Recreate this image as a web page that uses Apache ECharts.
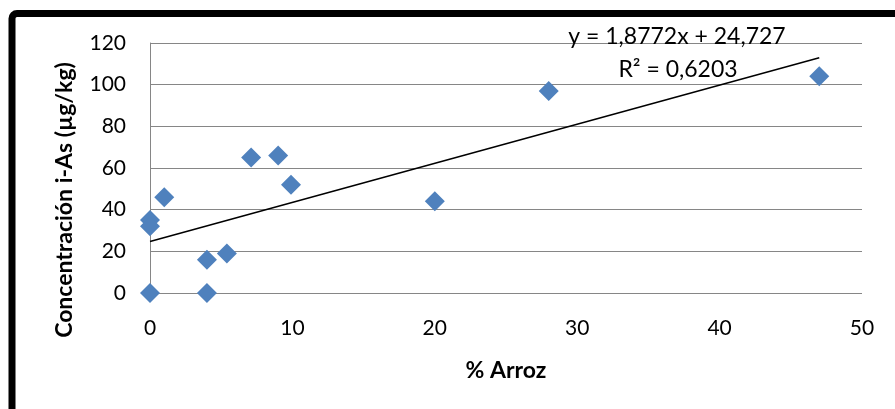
<!DOCTYPE html>
<html><head><meta charset="utf-8">
<script src="https://cdn.jsdelivr.net/npm/echarts@6/dist/echarts.min.js"></script>
<style>html,body{margin:0;padding:0;background:#fff}#c{width:895px;height:409px}</style>
</head><body><div id="c"></div>
<script>
const xValues = [0, 0, 0, 1, 4, 4, 5.4, 7.1, 9, 9.9, 20, 28, 47];
const yValues = [0, 35, 32, 46, 16, 0, 19, 65, 66, 52, 44, 97, 104];
const trendX = [0, 47];
const trendY = [24.727, 112.96];
const xTicks = [0, 10, 20, 30, 40, 50];
const yTicks = [0, 20, 40, 60, 80, 100, 120];
const eqText = 'y = 1,8772x + 24,727';
const r2Text = 'R² = 0,6203';
const xTitle = '% Arroz';
const yTitle = 'Concentración i-As (µg/kg)';

const font = 'Lato';
const chart = echarts.init(document.getElementById('c'), null, {renderer: 'canvas'});
const pts = xValues.map((x, i) => [x, yValues[i]]);
chart.setOption({
  animation: false,
  backgroundColor: '#fff',
  grid: {left: 150, right: 33, top: 43, bottom: 116},
  xAxis: {
    type: 'value', min: 0, max: 50, interval: 10,
    axisLine: {show: false}, axisTick: {show: false}, splitLine: {show: false},
    axisLabel: {fontFamily: font, fontSize: 21, color: '#000', margin: 25},
    name: xTitle, nameLocation: 'middle', nameGap: 66,
    nameTextStyle: {fontFamily: font, fontSize: 23, fontWeight: 'bold', color: '#000'}
  },
  yAxis: {
    type: 'value', min: 0, max: 120, interval: 20,
    axisLine: {show: true, lineStyle: {color: '#868686', width: 1}}, axisTick: {show: false},
    splitLine: {show: true, lineStyle: {color: '#868686', width: 1}},
    axisLabel: {fontFamily: font, fontSize: 21, color: '#000', margin: 24}
  },
  series: [
    {type: 'line', data: trendX.map((x, i) => [x, trendY[i]]), symbol: 'none',
     lineStyle: {color: '#000', width: 1.5}, z: 3},
    {type: 'scatter', data: pts, symbol: 'diamond', symbolSize: 20,
     itemStyle: {color: '#4F81BD', opacity: 1}, z: 4}
  ],
  graphic: [
    {type: 'rect', shape: {x: 12, y: 13.5, width: 900, height: 420, r: 5},
     style: {fill: 'none', stroke: '#000', lineWidth: 7}, z: 10},
    {type: 'text', x: 65, y: 200, rotation: Math.PI / 2, style: {text: yTitle, align: 'center', verticalAlign: 'middle',
      fontFamily: font, fontSize: 23, fontWeight: 'bold', fill: '#000'}, z: 5},
    {type: 'text', x: 677, y: 37, style: {text: eqText, align: 'center', verticalAlign: 'middle',
      fontFamily: font, fontSize: 23, fill: '#000'}, z: 5},
    {type: 'text', x: 678, y: 70, style: {text: r2Text, align: 'center', verticalAlign: 'middle',
      fontFamily: font, fontSize: 23, fill: '#000'}, z: 5}
  ]
});
</script></body></html>
